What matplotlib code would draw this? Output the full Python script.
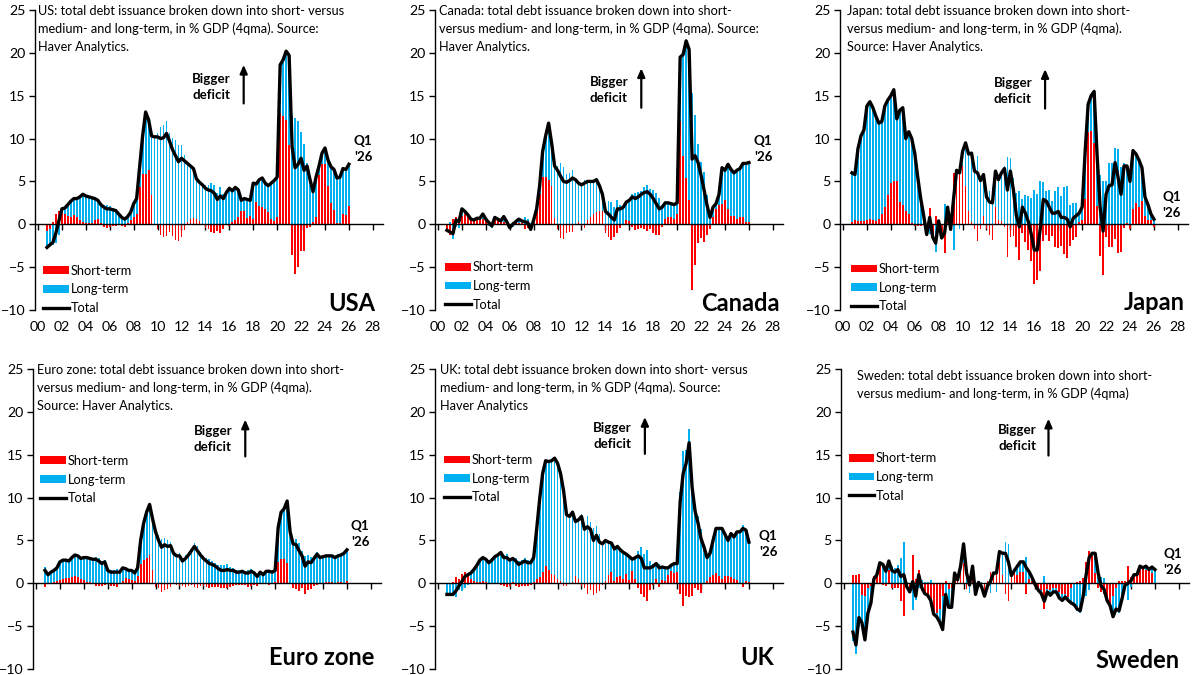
"""Six-panel chart: total government debt issuance split into short- and
medium/long-term, % of GDP (4qma), 2000Q4 - 2026Q1.
Writes out.png (1200x675).
"""

import numpy as np
import pandas as pd
import matplotlib
matplotlib.use("Agg")
import matplotlib.pyplot as plt

RED = "#FF0000"
BLUE = "#00B0F0"
INK = "#000000"

plt.rcParams.update({"font.family": ["Lato", "DejaVu Sans"]})

# ---- data: quarterly, 2000Q4 .. 2026Q1 ----
quarters = pd.period_range("2000Q4", "2026Q1", freq="Q")
qx = np.asarray(quarters.year + (quarters.quarter - 1) / 4, dtype=float)

year_ticks = list(range(2000, 2029, 2))
year_labels = [f"{y % 100:02d}" for y in year_ticks]
y_ticks = list(range(-10, 26, 5))

us_short = [
    -0.8,
    -0.5, 0.3, 1.2, 1.6,
    1.3, 1.2, 1.0, 0.9,
    1.1, 0.8, 0.5, 0.3,
    0.2, 0.1, 0.2, 0.5,
    0.6, 0.1, -0.3, -0.4,
    -0.3, -0.2, -0.2, -0.1,
    -0.2, -0.3, 0.2, 0.5,
    0.8, 1.2, 4.4, 5.9,
    5.9, 6.3, 3.4, -0.1,
    -0.5, -1.3, -1.5, -1.4,
    -0.9, -1.4, -1.8, -2.0,
    -1.5, -0.7, 0.3, 0.6,
    0.7, 0.6, 0.4, -0.1,
    -0.4, -0.6, -0.9, -1.0,
    -0.8, -1.0, -0.5, 0.0,
    -0.2, 0.3, 0.5, 0.9,
    1.5, 1.5, 0.7, 1.0,
    0.6, 2.6, 2.1, 2.0,
    1.8, 1.4, 0.6, 0.4,
    0.8, 13.0, 12.6, 12.2,
    9.2, -3.6, -5.8, -5.0,
    -3.1, -3.1, -0.4, -0.3,
    0.3, 0.8, 5.8, 7.0,
    7.0, 4.5, 2.5, 1.7,
    0.1, 0.1, 1.2, 1.1,
    2.1,
]
us_total = [
    -2.7,
    -2.4, -2.1, -1.0, 0.4,
    1.8, 1.9, 2.3, 2.7,
    3.0, 3.0, 3.2, 3.5,
    3.3, 3.2, 3.1, 3.0,
    2.8, 2.3, 2.0, 1.8,
    1.8, 1.7, 1.6, 1.2,
    0.8, 0.6, 0.9, 1.4,
    2.4, 3.0, 6.7, 10.3,
    13.1, 12.2, 10.3, 10.2,
    10.2, 10.0, 10.1, 10.6,
    9.7, 8.7, 8.0, 7.3,
    7.7, 7.4, 7.1, 6.8,
    6.5, 5.3, 4.9, 4.6,
    4.2, 4.0, 3.9, 3.6,
    2.9, 3.3, 3.0, 3.7,
    4.2, 3.9, 4.3, 4.0,
    2.8, 3.0, 2.9, 2.8,
    4.8, 4.7, 5.2, 5.4,
    4.8, 4.5, 4.8, 5.1,
    5.5, 18.6, 19.2, 20.2,
    19.7, 9.0, 6.6, 7.0,
    7.7, 6.3, 6.8, 5.2,
    3.8, 5.5, 6.8, 8.3,
    8.9, 7.5, 6.7, 6.4,
    5.4, 5.5, 6.5, 6.4,
    7.0,
]

ca_short = [
    -0.7,
    -1.2, 0.6, 0.8, 0.7,
    1.0, 1.2, 1.0, 0.5,
    0.4, 0.5, 0.5, 0.6,
    0.4, 0.4, 0.2, 0.6,
    0.5, 0.5, 0.3, 0.2,
    0.0, 0.3, 0.3, 0.2,
    0.2, -0.5, -0.4, -0.7,
    0.5, 1.5, 3.5, 5.5,
    5.5, 5.2, 4.5, 0.7,
    -0.5, -1.6, -1.7, -1.0,
    -0.9, -0.9, 0.0, 0.3,
    -0.2, -0.4, 0.5, 0.9,
    1.2, 1.4, 1.6, 1.5,
    -1.0, -1.5, -1.8, -1.5,
    -1.0, -0.4, -0.1, 0.5,
    0.4, -0.3, -0.7, -0.6,
    -0.4, -0.6, -0.8, -0.6,
    -1.0, -1.2, -1.3, -0.3,
    0.6, 0.8, 0.9, 0.6,
    1.2, 12.0, 8.0, 5.4,
    2.8, -7.7, -4.7, -2.2,
    -1.6, -2.1, -1.2, -0.5,
    0.8, 1.8, 2.2, 2.4,
    2.8, 1.8, 1.0, 1.0,
    0.6, 0.9, 0.9, 0.3,
    0.3,
]
ca_total = [
    -0.7,
    -0.9, -1.1, 0.5, 0.3,
    1.8, 1.5, 1.1, 0.6,
    0.5, 0.7, 0.7, 1.2,
    0.6, 0.2, -0.2, 0.8,
    0.6, 0.4, 0.9, 0.3,
    -0.4, 0.0, 0.3, 0.6,
    0.4, 0.3, 0.2, -0.6,
    0.5, 1.8, 4.5, 8.5,
    10.3, 11.8, 9.5, 6.8,
    6.3, 5.6, 5.0, 4.9,
    5.1, 5.4, 5.2, 4.8,
    4.6, 4.8, 5.0, 5.0,
    5.0, 5.2, 4.5, 3.5,
    1.5, 1.2, 0.8, 0.5,
    1.8, 1.8, 2.0, 2.6,
    2.8, 3.2, 3.0, 3.2,
    3.5, 3.7, 3.8, 3.5,
    3.0, 2.4, 1.8, 2.0,
    2.5, 2.5, 2.4, 2.3,
    2.5, 19.5, 19.8, 21.4,
    20.4, 7.6, 8.0, 7.2,
    5.7, 4.0, 2.2, 0.8,
    2.0, 2.4, 3.5, 6.6,
    6.3, 7.0, 6.4, 6.0,
    6.3, 6.5, 7.1, 7.1,
    7.2,
]

jp_short = [
    0.3,
    0.5, 0.4, 0.4, 0.4,
    0.5, 0.6, 0.5, 0.4,
    0.6, 1.2, 2.0, 3.4,
    4.8, 5.0, 5.1, 2.6,
    2.3, 1.6, 1.2, 0.2,
    -0.2, -0.2, -0.2, -0.1,
    -0.5, 1.9, -1.2, 1.0,
    0.3, -1.0, -3.4, 0.3,
    -0.5, 6.0, 6.2, 6.5,
    6.8, 4.5, 1.5, 0.3,
    -0.5, -2.0, -0.5, 1.0,
    -0.5, -1.3, -1.8, 2.0,
    0.5, 0.4, -0.3, -3.8,
    -1.5, -1.4, -2.6, -4.2,
    -1.0, -2.1, -3.0, -4.3,
    -7.0, -6.5, -5.5, -2.0,
    -1.2, -2.0, -1.4, -2.6,
    -2.8, -2.5, -3.5, -3.9,
    -2.5, -1.8, -1.5, 0.3,
    0.5, 3.0, 10.8, 10.9,
    9.5, 2.1, -3.7, -5.9,
    -1.5, -2.7, -2.6, -1.7,
    -3.3, -3.2, -0.4, 0.2,
    -0.6, 1.8, 2.5, 2.0,
    2.7, 1.0, 0.5, 0.5,
    -0.3,
]
jp_total = [
    6.0,
    5.8, 8.8, 10.3, 11.0,
    13.8, 14.3, 13.6, 12.6,
    11.8, 12.0, 13.8, 14.5,
    15.0, 15.7, 12.3, 13.3,
    13.6, 10.0, 10.8, 10.0,
    8.3, 5.5, 3.0, 1.0,
    -1.2, 0.8, -1.5, -2.2,
    0.4, -1.6, -1.0, 2.0,
    -0.6, 3.0, 6.3, 6.0,
    8.5, 9.5, 8.2, 8.3,
    6.2, 6.0, 5.1, 5.8,
    3.2, 2.6, 2.5, 6.2,
    5.2, 6.0, 6.5, 4.0,
    6.2, 4.0, 1.0, -0.3,
    2.0, 1.3, 0.3, -1.2,
    -3.0, -3.0, -0.5, 2.9,
    2.7, 2.0, 1.3, 1.3,
    1.5, 0.8, 0.8, 0.6,
    -0.3, 0.7, 1.0, 1.3,
    2.0, 8.5, 14.0, 15.0,
    15.5, 8.0, 2.0, -0.8,
    3.5, 4.5, 4.6, 7.2,
    5.5, 3.5, 6.8, 6.8,
    5.0, 8.6, 8.2, 7.5,
    6.6, 3.2, 2.3, 1.2,
    0.6,
]

ez_short = [
    -0.4,
    0.0, 0.0, 0.1, 0.3,
    0.4, 0.5, 0.6, 0.6,
    0.7, 0.8, 0.7, 0.5,
    0.4, 0.2, 0.1, 0.0,
    -0.3, -0.3, -0.3, -0.2,
    -0.1, -0.3, -0.3, -0.4,
    0.0, 0.3, 0.6, 0.5,
    0.4, 0.3, 0.8, 2.3,
    2.7, 3.0, 3.3, 1.5,
    -0.4, -0.6, -1.0, -0.8,
    -0.7, -0.4, -0.1, -0.2,
    -0.3, -0.3, -0.4, -0.3,
    -0.2, -0.4, -0.5, -0.3,
    -0.3, -0.4, -0.5, -0.4,
    -0.4, -0.4, -0.6, -0.6,
    -0.6, -0.4, -0.3, -0.2,
    -0.2, -0.2, -0.2, -0.4,
    -0.3, -0.2, -0.3, -0.1,
    0.0, -0.1, -0.2, -0.1,
    0.1, 2.5, 2.8, 2.8,
    2.4, -0.1, -0.5, -0.7,
    -0.9, -0.6, -1.2, -0.8,
    -0.7, -0.3, -0.2, 0.0,
    0.0, 0.1, 0.2, 0.1,
    0.0, 0.1, 0.1, -0.1,
    0.3,
]
ez_total = [
    1.5,
    1.0, 1.3, 1.5, 1.8,
    2.5, 2.7, 2.7, 2.6,
    3.0, 3.3, 3.2, 2.9,
    3.0, 3.0, 2.9, 2.8,
    2.8, 2.6, 2.3, 2.5,
    1.5, 1.3, 1.3, 1.3,
    1.3, 1.8, 1.7, 1.5,
    1.5, 1.2, 1.8, 5.0,
    7.0, 8.3, 9.2, 7.5,
    6.0, 5.0, 4.2, 4.5,
    4.3, 4.4, 3.5, 3.2,
    3.2, 2.6, 2.9, 3.3,
    3.8, 4.3, 3.8, 3.3,
    2.9, 2.6, 2.3, 2.2,
    2.0, 1.7, 1.5, 1.5,
    1.6, 1.5, 1.5, 1.3,
    1.3, 1.4, 1.2, 1.2,
    1.4, 1.2, 0.8, 1.3,
    1.0, 1.4, 1.4, 1.3,
    1.5, 6.5, 8.3, 8.7,
    9.6, 6.0, 4.6, 4.5,
    3.8, 3.2, 2.0, 2.5,
    2.4, 2.9, 3.4, 3.0,
    3.1, 3.2, 3.2, 3.2,
    3.0, 3.2, 3.3, 3.5,
    3.9,
]

uk_short = [
    0.0,
    0.0, 0.1, 0.7, 0.5,
    1.1, 1.3, 1.2, 0.5,
    0.3, 0.1, 0.1, 0.3,
    0.1, 0.0, 0.0, 0.0,
    -0.1, -0.2, -0.3, -0.4,
    -0.3, 0.1, -0.3, -0.4,
    -0.3, -0.3, -0.3, -0.2,
    0.1, 0.5, 0.7, 1.3,
    2.0, 1.6, 1.1, 1.0,
    0.5, 0.3, -0.3, -0.3,
    0.0, 0.2, 0.9, 0.5,
    -0.3, -0.6, -1.2, -0.8,
    -1.4, -1.1, -0.9, -0.2,
    0.3, 1.0, 1.3, 0.3,
    0.7, 0.8, 0.5, 1.1,
    0.4, 1.4, 0.5, -0.6,
    -1.3, -1.6, -2.1, -0.8,
    -0.2, 0.5, -0.4, 0.4,
    0.3, 1.0, 1.4, 1.2,
    1.3, -1.2, -2.6, -1.5,
    -1.6, -1.5, -0.6, -0.8,
    -1.1, -0.1, 0.3, 0.7,
    1.0, 1.2, 0.8, 0.5,
    0.9, 0.9, 0.7, 0.5,
    0.4, 0.0, -0.4, 0.3,
    0.1,
]
uk_total = [
    -1.3,
    -1.3, -1.3, -0.9, -0.3,
    0.2, 0.8, 1.0, 1.2,
    1.6, 2.1, 2.7, 3.0,
    2.8, 2.4, 2.7, 3.1,
    3.3, 3.6, 3.0, 3.0,
    2.7, 2.9, 2.6, 2.2,
    2.4, 2.6, 2.4, 2.4,
    3.0, 6.3, 9.8, 12.8,
    14.3, 14.2, 14.3, 14.6,
    14.0, 12.8, 10.8, 8.0,
    7.8, 8.3, 7.2, 7.4,
    7.8, 6.3, 6.6, 6.3,
    5.0, 5.6, 4.8, 4.6,
    5.0, 4.8, 4.7, 4.0,
    4.3, 3.9, 3.6, 3.4,
    3.1, 2.8, 3.0, 3.2,
    2.9, 1.8, 1.8, 1.8,
    2.0, 2.3, 1.8, 1.9,
    1.8, 1.8, 2.1, 2.3,
    2.3, 9.5, 12.8, 14.0,
    16.4, 11.2, 8.4, 7.0,
    5.2, 4.2, 3.0, 3.5,
    5.0, 6.4, 6.4, 6.4,
    5.7, 5.0, 5.8, 5.4,
    6.0, 6.0, 6.4, 6.2,
    4.8,
]

se_short = [
    1.0,
    1.0, 1.1, -1.4, -1.5,
    -0.5, -0.3, 0.8, 1.0,
    2.0, -0.2, -0.3, 1.5,
    -0.5, -0.5, -0.5, -2.1,
    -3.8, -0.5, -1.0, 3.3,
    0.5, 1.6, -0.9, -1.3,
    -1.5, -2.4, -3.2, -3.5,
    -3.0, -1.5, 0.3, -0.7,
    -0.6, 0.3, 0.5, 1.3,
    2.4, -0.7, 0.9, 1.2,
    -1.4, 0.2, -0.5, -1.1,
    0.3, 1.3, 1.2, 2.2,
    2.5, 1.0, -1.3, -2.1,
    0.7, 1.5, 1.0, 1.3,
    1.3, -1.3, 0.5, 0.3,
    -0.3, -0.5, -0.8, -3.0,
    -0.7, -0.8, -0.6, -0.5,
    -1.0, -1.3, -1.2, -1.6,
    -0.5, 0.0, 0.2, 0.3,
    0.6, 2.5, 3.8, 3.2,
    1.2, -0.5, -1.0, -1.3,
    -2.0, -2.5, -1.5, -0.5,
    0.3, 0.3, 0.3, 2.0,
    0.7, 1.0, 1.0, 1.5,
    1.7, 1.5, 1.5, 1.2,
    0.0,
]
se_total = [
    -5.7,
    -7.2, -4.0, -4.6, -6.6,
    -3.5, -2.3, 0.5, 1.0,
    2.4, 2.2, 1.4, 2.6,
    1.5, 1.3, 1.6, 0.8,
    1.0, -0.4, -1.0, 0.2,
    -1.5, 1.0, -0.5, -1.2,
    -1.4, -2.0, -3.6, -3.9,
    -4.5, -5.4, -1.3, -2.8,
    -2.8, 1.2, 0.4, 2.0,
    4.6, 1.2, -0.2, 2.0,
    -1.3, 0.1, -0.4, -1.5,
    -0.3, 0.2, 1.2, 1.2,
    3.7, 3.5, 3.5, 2.5,
    0.9, 1.5, 2.0, 2.5,
    2.5, 1.8, 1.3, 0.6,
    -0.2, -0.8, -1.2, -2.1,
    -1.0, -1.4, -1.0, -1.0,
    -1.7, -2.0, -1.6, -2.0,
    -2.3, -2.5, -3.0, -3.2,
    -1.5, 1.0, 3.0, 3.5,
    3.5, 1.2, -0.3, -0.7,
    -2.0, -2.6, -3.9, -3.0,
    -3.2, -1.8, -0.2, 0.0,
    0.3, 1.0, 1.0, 2.0,
    1.8, 2.0, 1.6, 1.9,
    1.6,
]

# ---- layout (pixels of the 1200x675 canvas) ----
FW, FH = 1200, 675
AX_W, AX_H = 348, 300
XLIM = (1999.75, 2028.85)
TXT = 9.2
BAR_W = 0.15

panels = [
    dict(name="USA", short=us_short, total=us_total, left=35, top=10, years=True,
         title="US: total debt issuance broken down into short- versus\n"
               "medium- and long-term, in % GDP (4qma). Source:\nHaver Analytics.",
         title_xy=(2000.0, 25.6), leg_xy=(0.023, -7.6), name_xy=(2028.2, -9.2),
         note_xy=(2014.5, 16.0), arrow=(2017.2, 14.1, 18.6), q1_xy=(2027.2, 8.8)),
    dict(name="Canada", short=ca_short, total=ca_total, left=435, top=10, years=True,
         title="Canada: total debt issuance broken down into short-\n"
               "versus medium- and long-term, in % GDP (4qma). Source:\nHaver Analytics.",
         title_xy=(2000.1, 25.6), leg_xy=(0.029, -7.2), name_xy=(2028.6, -9.2),
         note_xy=(2014.3, 15.7), arrow=(2017.0, 13.6, 18.2), q1_xy=(2027.2, 8.8)),
    dict(name="Japan", short=jp_short, total=jp_total, left=840, top=10, years=True,
         title="Japan: total debt issuance broken down into short-\n"
               "versus medium- and long-term, in % GDP (4qma).\nSource: Haver Analytics.",
         title_xy=(2000.3, 25.6), leg_xy=(0.032, -7.4), name_xy=(2028.6, -9.1),
         note_xy=(2014.2, 15.6), arrow=(2016.9, 13.5, 18.1), q1_xy=(2027.5, 2.2)),
    dict(name="Euro zone", short=ez_short, total=ez_total, left=33, top=369, years=False,
         title="Euro zone: total debt issuance broken down into short-\n"
               "versus medium- and long-term, in % GDP (4qma).\nSource: Haver Analytics.",
         title_xy=(2000.1, 25.6), leg_xy=(0.020, 12.1), name_xy=(2028.3, -8.7),
         note_xy=(2014.8, 16.8), arrow=(2017.5, 14.8, 19.1), q1_xy=(2027.1, 5.7)),
    dict(name="UK", short=uk_short, total=uk_total, left=435, top=369, years=False,
         title="UK: total debt issuance broken down into short- versus\n"
               "medium- and long-term, in % GDP (4qma). Source:\nHaver Analytics",
         title_xy=(2000.2, 25.6), leg_xy=(0.026, 12.2), name_xy=(2028.1, -8.7),
         note_xy=(2014.6, 17.2), arrow=(2017.3, 15.1, 19.4), q1_xy=(2027.6, 4.6)),
    dict(name="Sweden", short=se_short, total=se_total, left=841, top=369, years=False,
         title="Sweden: total debt issuance broken down into short-\n"
               "versus medium- and long-term, in % GDP (4qma)",
         title_xy=(2001.1, 24.9), leg_xy=(0.022, 12.4), name_xy=(2028.1, -9.0),
         note_xy=(2014.5, 16.9), arrow=(2017.1, 14.9, 19.2), q1_xy=(2027.5, 2.5)),
]

fig = plt.figure(figsize=(FW / 100, FH / 100), dpi=100)
fig.patch.set_facecolor("white")

for p in panels:
    rect = [p["left"] / FW, 1 - (p["top"] + AX_H) / FH, AX_W / FW, AX_H / FH]
    ax = fig.add_axes(rect)

    short = np.asarray(p["short"], dtype=float)
    total = np.asarray(p["total"], dtype=float)
    long_ = total - short
    # Excel-style stacking: positives on positives, negatives on negatives
    base = np.where(long_ >= 0, np.maximum(short, 0), np.minimum(short, 0))

    b_short = ax.bar(qx, short, width=BAR_W, color=RED, linewidth=0,
                     antialiased=False, label="Short-term", zorder=2)
    b_long = ax.bar(qx, long_, bottom=base, width=BAR_W, color=BLUE, linewidth=0,
                    antialiased=False, label="Long-term", zorder=2)
    (l_total,) = ax.plot(qx, total, color=INK, lw=2.4, solid_joinstyle="round",
                         label="Total", zorder=3)

    ax.set_xlim(*XLIM)
    ax.set_ylim(-10, 25)
    ax.set_yticks(y_ticks)
    ax.set_xticks(year_ticks)
    ax.tick_params(axis="y", direction="out", length=4, width=1, pad=3,
                   labelsize=10.2, colors=INK)
    ax.tick_params(axis="x", direction="out", length=4, width=1, labelbottom=False)
    for s in ("top", "right"):
        ax.spines[s].set_visible(False)
    ax.spines["bottom"].set_position(("data", 0))
    ax.spines["bottom"].set_linewidth(1)
    ax.spines["left"].set_linewidth(1)
    ax.spines["bottom"].set_zorder(4)

    if p["years"]:
        sec = ax.secondary_xaxis(0)
        sec.set_xticks(year_ticks, year_labels)
        sec.tick_params(length=0, pad=8, labelsize=10.2)
        sec.spines["bottom"].set_visible(False)

    ax.text(*p["title_xy"], p["title"], ha="left", va="top", fontsize=TXT,
            linespacing=1.55, color=INK)
    ax.text(*p["name_xy"], p["name"], ha="right", va="center", fontsize=17,
            fontweight="bold", color=INK)
    ax.text(*p["note_xy"], "Bigger\ndeficit", ha="center", va="center", fontsize=9.6,
            fontweight="bold", linespacing=1.4, color=INK)
    ar_x, ar_y0, ar_y1 = p["arrow"]
    ax.annotate("", xy=(ar_x, ar_y1), xytext=(ar_x, ar_y0),
                arrowprops=dict(arrowstyle="-|>,head_length=0.5,head_width=0.22",
                                color=INK, lw=1.6, shrinkA=0, shrinkB=0))
    ax.text(*p["q1_xy"], "Q1\n'26", ha="center", va="center", fontsize=9.6,
            fontweight="bold", linespacing=1.4, color=INK)

    lx, ly = p["leg_xy"]
    ax.legend([b_short, b_long, l_total], ["Short-term", "Long-term", "Total"],
              loc="center left", bbox_to_anchor=(lx, (ly + 10) / 35),
              frameon=False, fontsize=TXT, borderpad=0, borderaxespad=0,
              handlelength=2.0, handleheight=0.57, handletextpad=0.15,
              labelspacing=0.52)

fig.savefig("out.png", dpi=100, facecolor="white")
plt.close(fig)
